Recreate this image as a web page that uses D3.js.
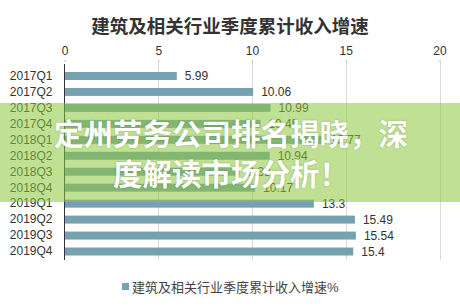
<!DOCTYPE html>
<html><head><meta charset="utf-8">
<script src="https://cdn.jsdelivr.net/npm/d3@7"></script>
<style>body{margin:0;background:#fff}svg{display:block}text{font-family:"Liberation Sans","Noto Sans CJK SC",sans-serif}</style>
</head><body><svg id="c" width="460" height="307"></svg>
<script>
const categories = ["2017Q1","2017Q2","2017Q3","2017Q4","2018Q1","2018Q2","2018Q3","2018Q4","2019Q1","2019Q2","2019Q3","2019Q4"];
const values = [5.99,10.06,10.99,10.45,13.77,10.94,9.33,10.17,13.3,15.49,15.54,15.4];
const xTicks = [0,5,10,15,20];
const title = "建筑及相关行业季度累计收入增速";
const seriesName = "建筑及相关行业季度累计收入增速%";
const bannerLines = ["定州劳务公司排名揭晓，深","度解读市场分析！"];

const svg = d3.select("#c");
const x = d3.scaleLinear().domain([0,20]).range([64.5,439.5]);
const y = d3.scaleBand().domain(categories).range([68,259.5]).paddingInner(0.5).paddingOuter(0.25);

svg.append("text").attr("x",230).attr("y",33).attr("text-anchor","middle")
  .attr("font-size",18.5).attr("font-weight","bold").attr("fill","#333").text(title);

// grid
svg.append("g").selectAll("line").data(xTicks.slice(1)).join("line")
  .attr("x1",d=>Math.round(x(d))+0.5).attr("x2",d=>Math.round(x(d))+0.5)
  .attr("y1",62).attr("y2",260).attr("stroke","#d9d9d9");
// top axis
const ax = svg.append("g").attr("transform","translate(0,62)")
  .call(d3.axisTop(x).tickValues(xTicks).tickSize(2).tickPadding(5));
ax.select(".domain").remove();
ax.selectAll("line").attr("stroke","#bbb");
ax.selectAll("text").attr("font-size",12).attr("fill","#333").attr("font-family","Liberation Sans, sans-serif");

// bars
svg.append("g").selectAll("rect").data(values).join("rect")
  .attr("x",x(0)).attr("y",(d,i)=>y(categories[i]))
  .attr("width",d=>x(d)-x(0)).attr("height",y.bandwidth())
  .attr("fill","#77a0b1");
svg.append("g").selectAll("text").data(values).join("text")
  .attr("x",d=>x(d)+8).attr("y",(d,i)=>y(categories[i])+y.bandwidth()/2+4.5)
  .attr("font-size",12).attr("fill","#333").text(d=>d);

// y axis
const ay = svg.append("g").attr("transform",`translate(${x(0)},0)`)
  .call(d3.axisLeft(y).tickSize(0).tickPadding(12));
ay.select(".domain").attr("stroke","#333").attr("d","M0,64V260");
ay.selectAll("text").attr("font-size",12).attr("fill","#333").attr("font-family","Liberation Sans, sans-serif");

// legend
svg.append("rect").attr("x",122).attr("y",283).attr("width",7).attr("height",7).attr("fill","#77a0b1");
svg.append("text").attr("x",132).attr("y",291.5).attr("font-size",13).attr("fill","#444").text(seriesName);

// banner
svg.append("rect").attr("x",0).attr("y",103).attr("width",460).attr("height",99)
  .attr("fill","rgba(140,200,60,0.55)");
svg.append("g").selectAll("text").data(bannerLines).join("text")
  .attr("x",231).attr("y",(d,i)=>145+i*40).attr("text-anchor","middle")
  .attr("font-size",29.5).attr("font-weight","bold").attr("fill","#fff")
  .style("font-family","'Noto Sans CJK SC',sans-serif")
  .style("text-shadow","0 0 2px rgba(0,0,0,0.25)")
  .text(d=>d);
</script></body></html>
